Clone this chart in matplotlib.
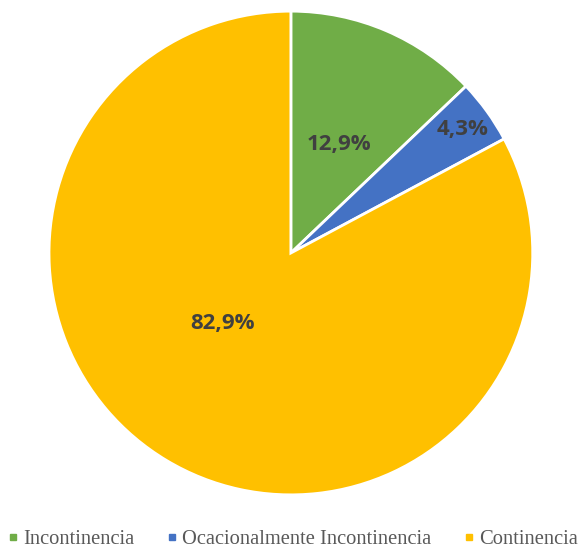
import matplotlib
matplotlib.use('Agg')
import matplotlib.pyplot as plt
from matplotlib.lines import Line2D
import numpy as np

labels = ['Incontinencia', 'Ocacionalmente Incontinencia', 'Continencia']
values = [12.9, 4.3, 82.9]
colors = ['#70AD47', '#4472C4', '#FFC000']
# where each percentage sits, as (radius fraction, angle in degrees)
label_pos = [(0.5, 66.8), (0.88, 36.4), (0.40, 225.0)]

fig = plt.figure(figsize=(5.8, 5.5), dpi=100)
ax = fig.add_axes([0.0845, 0.1, 0.834, 0.88])

wedges, _ = ax.pie(values, colors=colors, startangle=90, counterclock=False,
                   radius=1, wedgeprops=dict(edgecolor='white', linewidth=2))

for v, (r, a) in zip(values, label_pos):
    t = np.deg2rad(a)
    ax.text(r * np.cos(t), r * np.sin(t) - 0.01, f'{v:.1f}%'.replace('.', ','),
            ha='center', va='center', fontsize=16, fontweight='bold',
            color='#404040', family='Open Sans')

ax.set_xlim(-1, 1)
ax.set_ylim(-1, 1)
ax.set_aspect('equal')
ax.axis('off')

handles = [Line2D([], [], marker='s', linestyle='none', markersize=4,
                  markerfacecolor=c, markeredgecolor=c) for c in colors]
fig.legend(handles, labels, loc='center', bbox_to_anchor=(0.505, 0.019),
           ncol=3, frameon=False, borderpad=0, handletextpad=0.25,
           columnspacing=1.58, handlelength=0.5,
           prop={'family': 'Liberation Serif', 'size': 14.8}, labelcolor='#595959')

fig.savefig('out.png', dpi=100)
